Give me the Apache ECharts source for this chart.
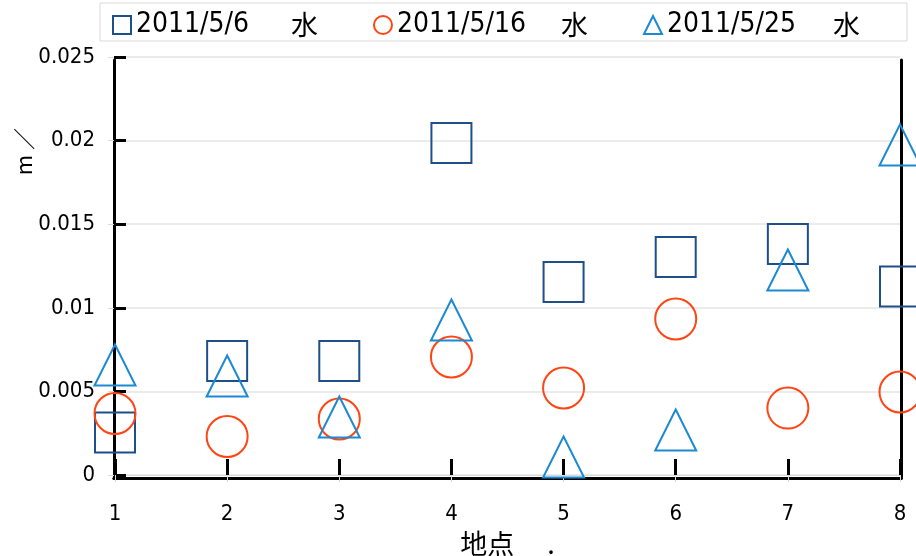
<!DOCTYPE html>
<html>
<head>
<meta charset="utf-8">
<script src="https://cdn.jsdelivr.net/npm/echarts@6/dist/echarts.min.js"></script>
<style>html,body{margin:0;padding:0;background:#fff}#c{width:916px;height:556px}</style>
</head>
<body>
<div id="c"></div>
<script>
// ---- data ----
const sites = [1, 2, 3, 4, 5, 6, 7, 8];
const seriesNames = ['2011/5/6', '2011/5/16', '2011/5/25'];
const legendSuffix = '水';
const s1 = [0.00254, 0.00682, 0.00682, 0.01986, 0.01154, 0.01304, 0.01381, 0.01127];
const s2 = [0.00368, 0.00230, 0.00335, 0.00706, 0.00520, 0.00933, 0.00400, 0.00496];
const s3 = [0.00658, 0.00592, 0.00347, 0.00927, 0.00108, 0.00269, 0.01226, 0.01974];
const xTickLabels = ['1', '2', '3', '4', '5', '6', '7', '8'];
const yTickLabels = ['0', '0.005', '0.01', '0.015', '0.02', '0.025'];
const xAxisName = '地点\u3000 .';
const yAxisName = 'm ／';

const colors = ['#1F4E89', '#FF4513', '#1C8AD2'];
const symbols = ['rect', 'circle', 'triangle'];
const sizes = [40, 41, 41];
const allData = [s1, s2, s3];
const narrow = "'Liberation Sans Narrow', 'DejaVu Sans Condensed', 'Liberation Sans', sans-serif";

const chart = echarts.init(document.getElementById('c'), null, {renderer: 'canvas'});
const gray = '#d9d9d9';

const series = allData.map((arr, i) => ({
  name: seriesNames[i],
  type: 'scatter',
  xAxisIndex: 0,
  yAxisIndex: 0,
  symbol: symbols[i],
  symbolSize: sizes[i],
  data: arr.map((v, j) => [sites[j], v]),
  itemStyle: {color: 'rgba(0,0,0,0)', borderColor: colors[i], borderWidth: 2, opacity: 1},
  emphasis: {disabled: true},
  z: 3
}));

const textWidths = [155, 164, 166];
const rich = {k: {fontFamily: 'Noto Sans CJK JP', fontSize: 27, color: '#000', lineHeight: 30}};
textWidths.forEach((w, i) => {
  rich['d' + i] = {fontFamily: narrow, fontSize: 28, color: '#000', width: w, lineHeight: 30};
});

const option = {
  animation: false,
  grid: [
    {left: 115, right: 16, top: 57, bottom: 81, outerBoundsMode: 'none', containLabel: false},
    {left: 114, right: 15, top: 60, bottom: 78, outerBoundsMode: 'none', containLabel: false}
  ],
  legend: {
    left: 100, top: 3, width: 765,
    padding: [8, 47, 2, 12],
    borderColor: '#d9d9d9', borderWidth: 1,
    itemWidth: 18, itemHeight: 18, itemGap: 55,
    data: seriesNames.map((n, i) => ({name: n, icon: symbols[i], itemStyle: {color: 'rgba(0,0,0,0)', borderColor: colors[i], borderWidth: 2}})),
    formatter: n => '{d' + seriesNames.indexOf(n) + '|' + n + '}{k|' + legendSuffix + '}',
    textStyle: {rich: rich}
  },
  xAxis: [
    {
      type: 'value', gridIndex: 0, min: 1, max: 8, interval: 1,
      axisLine: {show: true, lineStyle: {color: gray, width: 1}},
      axisTick: {show: true, inside: false, length: 7, lineStyle: {color: gray}},
      splitLine: {show: false},
      axisLabel: {margin: 28, fontFamily: narrow, fontSize: 22, color: '#000',
        formatter: v => xTickLabels[sites.indexOf(v)]},
      name: xAxisName, nameLocation: 'middle', nameGap: 55,
      nameTextStyle: {fontFamily: 'Noto Sans CJK JP', fontSize: 27, color: '#000'}
    },
    {
      // black inner ticks on the bottom frame
      type: 'value', gridIndex: 0, min: 1, max: 8, interval: 1, position: 'bottom', offset: 3,
      axisLine: {show: false},
      axisTick: {show: true, inside: true, length: 16, lineStyle: {color: '#000', width: 3}},
      splitLine: {show: false}, axisLabel: {show: false}
    },
    {
      type: 'value', gridIndex: 1, min: 1, max: 8, interval: 1, position: 'bottom',
      axisLine: {show: true, lineStyle: {color: '#000', width: 3}},
      axisTick: {show: false}, splitLine: {show: false}, axisLabel: {show: false}
    },
    {
      type: 'value', gridIndex: 1, min: 1, max: 8, interval: 1, position: 'top',
      axisLine: {show: true, lineStyle: {color: '#000', width: 3}},
      axisTick: {show: false}, splitLine: {show: false}, axisLabel: {show: false}
    }
  ],
  yAxis: [
    {
      type: 'value', gridIndex: 0, min: 0, max: 0.025, interval: 0.005,
      axisLine: {show: true, lineStyle: {color: gray, width: 1}},
      axisTick: {show: true, inside: false, length: 7, lineStyle: {color: gray}},
      splitLine: {show: true, lineStyle: {color: '#e4e4e4', width: 1.5}},
      axisLabel: {margin: 20, fontFamily: narrow, fontSize: 22, color: '#000',
        formatter: v => yTickLabels[Math.round(v / 0.005)]}
    },
    {
      // black inner ticks on the left frame
      type: 'value', gridIndex: 0, min: 0, max: 0.025, interval: 0.005, position: 'left', offset: 1,
      axisLine: {show: false},
      axisTick: {show: true, inside: true, length: 12, lineStyle: {color: '#000', width: 3}},
      splitLine: {show: false}, axisLabel: {show: false}
    },
    {
      type: 'value', gridIndex: 1, min: 0, max: 0.025, interval: 0.005, position: 'left',
      axisLine: {show: true, lineStyle: {color: '#000', width: 3}},
      axisTick: {show: false}, splitLine: {show: false}, axisLabel: {show: false}
    },
    {
      type: 'value', gridIndex: 1, min: 0, max: 0.025, interval: 0.005, position: 'right',
      axisLine: {show: true, lineStyle: {color: '#000', width: 3}},
      axisTick: {show: false}, splitLine: {show: false}, axisLabel: {show: false}
    }
  ],
  graphic: [
    {
      type: 'text', left: 13, top: 128, rotation: Math.PI / 2,
      style: {text: yAxisName, fontFamily: 'Noto Sans CJK JP', fontSize: 22, fill: '#000'}
    }
  ],
  series: series
};
chart.setOption(option);
</script>
</body>
</html>
